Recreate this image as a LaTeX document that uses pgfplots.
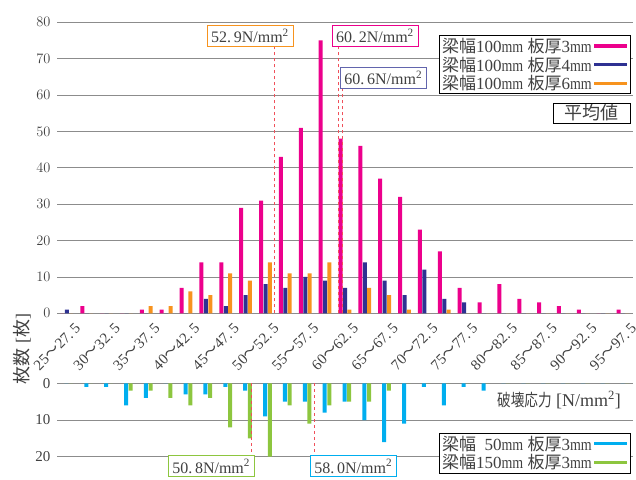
\documentclass[border=0pt]{standalone}
\usepackage{fontspec}
\setmainfont{Liberation Serif}
\newfontfamily\cjk{Noto Sans CJK JP}
\usepackage{graphicx}
\usepackage{pgfplots}
\usepackage{pgfplotstable}
\pgfplotsset{compat=1.18}

\definecolor{pinkc}{HTML}{EC008C}
\definecolor{navyc}{HTML}{2E3192}
\definecolor{orangec}{HTML}{F7931E}
\definecolor{cyanc}{HTML}{00AEEF}
\definecolor{greenc}{HTML}{8DC63F}
\definecolor{meanred}{HTML}{F0505A}
\definecolor{gridc}{HTML}{8C8C8C}
\definecolor{txtc}{HTML}{404040}

\newcommand{\mmu}{\scalebox{0.82}[1]{mm}}
\newcommand{\tl}[2]{#1{\cjk ～}#2}

\pgfplotstableread{
x pink blue orange cyan green
0 0 1 0 0 0
1 2 0 0 1 0
2 0 0 0 1 0
3 0 0 0 6 2
4 1 0 2 4 2
5 1 0 2 0 4
6 7 0 6 3 6
7 14 4 5 3 4
8 14 2 11 1 12
9 29 5 9 2 15
10 31 8 14 9 20
11 43 7 11 5 6
12 51 10 11 5 11
13 75 9 14 8 6
14 48 7 1 5 5
15 46 14 7 10 5
16 37 9 5 16 2
17 32 5 1 11 0
18 23 12 0 1 0
19 17 4 1 6 0
20 7 3 0 1 0
21 3 0 0 2 0
22 8 0 0 0 0
23 4 0 0 0 0
24 3 0 0 0 0
25 2 0 0 0 0
26 1 0 0 0 0
27 0 0 0 0 0
28 1 0 0 0 0
}\datatab

\pgfplotsset{
  legline/.style={legend image code/.code={\draw[line width=3.4pt,#1] (0pt,0pt) -- (33pt,0pt);}},
  common/.style={
    scale only axis, width=576pt,
    xmin=-0.5, xmax=28.5,
    axis line style={draw=none},
    major tick length=0pt,
    ymajorgrids, grid style={gridc, line width=0.8pt},
    yticklabel style={font=\fontsize{15}{15}\selectfont, text=txtc, xshift=-3pt},
    legend plot pos=right,
    legend cell align=left,
  },
}

\begin{document}
\begin{tikzpicture}
\useasboundingbox (0,0) rectangle (636pt,479pt);
\clip (0,0) rectangle (636pt,479pt);

% upper panel
\begin{axis}[common,
  at={(57pt,165.7pt)}, anchor=south west, height=291pt,
  ymin=0, ymax=80, ytick={0,10,...,80},
  xtick={0,2,...,28},
  xticklabels={\tl{25}{27.\,5},\tl{30}{32.\,5},\tl{35}{37.\,5},\tl{40}{42.\,5},\tl{45}{47.\,5},\tl{50}{52.\,5},\tl{55}{57.\,5},\tl{60}{62.\,5},\tl{65}{67.\,5},\tl{70}{72.\,5},\tl{75}{77.\,5},\tl{80}{82.\,5},\tl{85}{87.\,5},\tl{90}{92.\,5},\tl{95}{97.\,5}},
  xticklabel style={xshift=-10pt, yshift=-33.7pt, rotate=45, anchor=center, font=\fontsize{15}{15}\selectfont, text=txtc},
  legend style={at={(0.9965,0.956)}, anchor=north east, draw=black, line width=0.8pt, fill=white,
    font=\fontsize{17}{17}\selectfont, text=txtc, inner sep=1.5pt, row sep=1pt,
    nodes={inner sep=1pt}},
]
\addplot[ybar, bar width=4pt, bar shift=-4.5pt, fill=pinkc, draw=none, legline=pinkc] table[x=x, y=pink] {\datatab};
\addlegendentry{{\cjk 梁幅}100\mmu\ {\cjk 板厚}3\mmu}
\addplot[ybar, bar width=4pt, bar shift=0pt, fill=navyc, draw=none, legline=navyc] table[x=x, y=blue] {\datatab};
\addlegendentry{{\cjk 梁幅}100\mmu\ {\cjk 板厚}4\mmu}
\addplot[ybar, bar width=4pt, bar shift=4.3pt, fill=orangec, draw=none, legline=orangec] table[x=x, y=orange] {\datatab};
\addlegendentry{{\cjk 梁幅}100\mmu\ {\cjk 板厚}6\mmu}
\addplot[meanred, dashed, line width=1pt, forget plot] coordinates {(10.43,0) (10.43,73.3)};
\addplot[meanred, dashed, line width=1pt, forget plot] coordinates {(13.66,0) (13.66,73.3)};
\addplot[meanred, dashed, line width=1pt, forget plot] coordinates {(13.87,0) (13.87,61.9)};
\end{axis}

% lower panel
\begin{axis}[common,
  at={(57pt,22.3pt)}, anchor=south west, height=73.4pt,
  ymin=-20, ymax=0, ytick={-20,-10,0}, yticklabels={20,10,0},
  xtick=\empty,
  legend style={at={(0.9965,0.323)}, anchor=north east, draw=black, line width=0.8pt, fill=white,
    font=\fontsize{17}{17}\selectfont, text=txtc, inner sep=1.5pt, row sep=1pt,
    nodes={inner sep=1pt}},
]
\addplot[ybar, bar width=4pt, bar shift=-0.5pt, fill=cyanc, draw=none, legline=cyanc] table[x=x, y expr=-\thisrow{cyan}] {\datatab};
\addlegendentry{{\cjk 梁幅}\phantom{1}50\mmu\ {\cjk 板厚}3\mmu}
\addplot[ybar, bar width=4pt, bar shift=4.2pt, fill=greenc, draw=none, legline=greenc] table[x=x, y expr=-\thisrow{green}] {\datatab};
\addlegendentry{{\cjk 梁幅}150\mmu\ {\cjk 板厚}3\mmu}
\addplot[meanred, dashed, line width=1pt, forget plot] coordinates {(9.30,0) (9.30,-19.8)};
\addplot[meanred, dashed, line width=1pt, forget plot] coordinates {(12.44,0) (12.44,-19.8)};
\end{axis}

% mean value boxes
\tikzset{mbox/.style={draw=#1, fill=white, line width=0.8pt, minimum width=86pt, minimum height=21pt, inner sep=0pt, font=\fontsize{16}{16}\selectfont, text=txtc}}
\node[mbox=orangec] at (250pt,442.8pt) {52.\,9N/mm\textsuperscript{2}};
\node[mbox=pinkc] at (375pt,442.8pt) {60.\,2N/mm\textsuperscript{2}};
\node[mbox=navyc!75] at (383.3pt,401.2pt) {60.\,6N/mm\textsuperscript{2}};
\node[mbox=greenc] at (211.2pt,12.7pt) {50.\,8N/mm\textsuperscript{2}};
\node[mbox=cyanc] at (353.3pt,12.7pt) {58.\,0N/mm\textsuperscript{2}};

\node[draw=black, line width=0.8pt, minimum width=77pt, minimum height=20pt, inner sep=0pt, font=\cjk\fontsize{18}{18}\selectfont, text=txtc] at (591.5pt,366pt) {平均値};

% axis titles
\node[rotate=90, font=\fontsize{18}{18}\selectfont, text=txtc] at (22pt,130pt) {{\cjk 枚数} [{\cjk 枚}]};
\node[anchor=west, inner sep=0pt, text=txtc] at (497pt,79pt) {{\cjk\fontsize{17}{17}\selectfont\scalebox{0.8}[1]{破壊応力}}\fontsize{18}{18}\selectfont\ [N/mm\textsuperscript{2}]};
\end{tikzpicture}
\end{document}
